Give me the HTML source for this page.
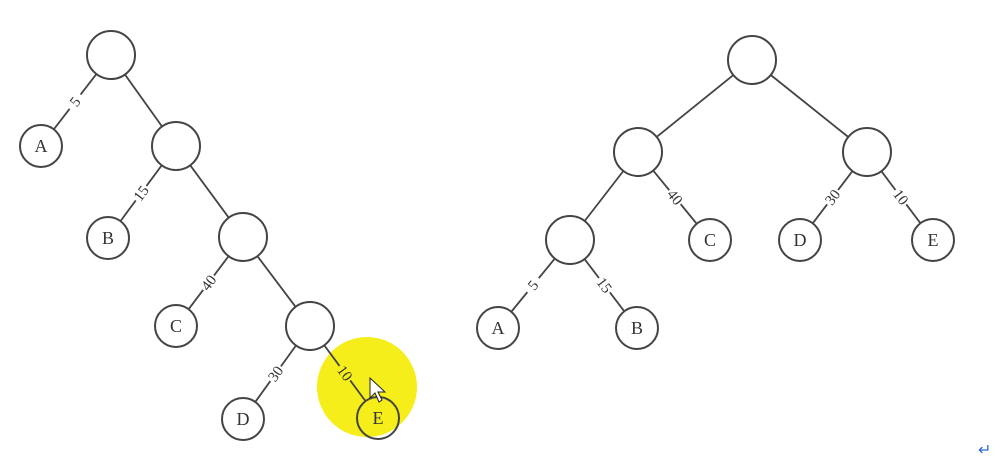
<!DOCTYPE html>
<html><head><meta charset="utf-8"><style>
html,body{margin:0;padding:0;background:#fff;width:1008px;height:456px;overflow:hidden}
svg text{font-family:"Liberation Serif",serif;fill:#333}
</style></head><body>
<svg width="1008" height="456" viewBox="0 0 1008 456">
<g id="g" stroke="#444" stroke-width="1.8" fill="none"></g>
<g id="t"></g>
</svg>
<script>
const nodesL = [["r",111,55,""],["A",41,146,"A"],["n2",176,146,""],["B",108,238,"B"],["n3",243,237,""],["C",176,326,"C"],["n4",310,326,""],["D",243,419,"D"],["E",378,418,"E"]];
const edgesL = [["r","A","5"],["r","n2",""],["n2","B","15"],["n2","n3",""],["n3","C","40"],["n3","n4",""],["n4","D","30"],["n4","E","10"]];
const nodesR = [["r",752,60,""],["l",638,152,""],["rr",867,152,""],["ll",570,240,""],["C",710,240,"C"],["D",800,240,"D"],["E",933,240,"E"],["A",498,328,"A"],["B",637,328,"B"]];
const edgesR = [["r","l",""],["r","rr",""],["l","ll",""],["l","C","40"],["rr","D","30"],["rr","E","10"],["ll","A","5"],["ll","B","15"]];
const NS="http://www.w3.org/2000/svg";
const g=document.getElementById('g'), t=document.getElementById('t');
function mk(tag,attrs,parent){const e=document.createElementNS(NS,tag);for(const k in attrs)e.setAttribute(k,attrs[k]);parent.appendChild(e);return e;}
const hl=mk('circle',{cx:367,cy:387,r:50,fill:'#f5ee1a',stroke:'none'},g);


function draw(nodes,edges,side){
  const m={};nodes.forEach(n=>m[n[0]]=n);
  edges.forEach(e=>{
    const a=m[e[0]],b=m[e[1]];
    const ra=a[3]?21:24, rb=b[3]?21:24;
    const dx=b[1]-a[1],dy=b[2]-a[2],L=Math.hypot(dx,dy),ux=dx/L,uy=dy/L;
    const ln=mk('line',{x1:a[1]+ux*ra,y1:a[2]+uy*ra,x2:b[1]-ux*rb,y2:b[2]-uy*rb},g);
    
    
    if(e[2]){
      const mx=(a[1]+ux*ra+b[1]-ux*rb)/2,my=(a[2]+uy*ra+b[2]-uy*rb)/2;
      const ang=Math.atan2(dy,dx)*180/Math.PI;
      const rot = ang>90? ang-180 : ang;
      const inHl = Math.hypot(mx-367,my-387)<50;
      mk('rect',{x:mx-9,y:my-6,width:18,height:12,fill:inHl?'#f5ee1a':'#fff',stroke:'none',transform:`rotate(${rot} ${mx} ${my})`},t);
      const tx=mk('text',{x:mx,y:my+5,'text-anchor':'middle','font-size':15,transform:`rotate(${rot} ${mx} ${my})`},t);
      tx.textContent=e[2];
      
      
    }
  });
  nodes.forEach(n=>{
    const r=n[3]?21:24;
    const c=mk('circle',{cx:n[1],cy:n[2],r:r,fill:'none',stroke:'#444','stroke-width':2},t);
    
    
    if(n[3]){
      const tx=mk('text',{x:n[1],y:n[2]+6,'text-anchor':'middle','font-size':18},t);
      tx.textContent=n[3];
      
      
    }
  });
}
draw(nodesL,edgesL,'left');
draw(nodesR,edgesR,'right');
const cur=mk('path',{d:'M370 378 L370 398 L375 393 L379 402 L382 400 L378 392 L385 392 Z',fill:'#fff',stroke:'#222','stroke-width':1},t);


const ret=mk('text',{x:978,y:455,'font-size':16,style:'fill:#2a6bd6'},t);
ret.textContent='↵';


</script>
</body></html>
